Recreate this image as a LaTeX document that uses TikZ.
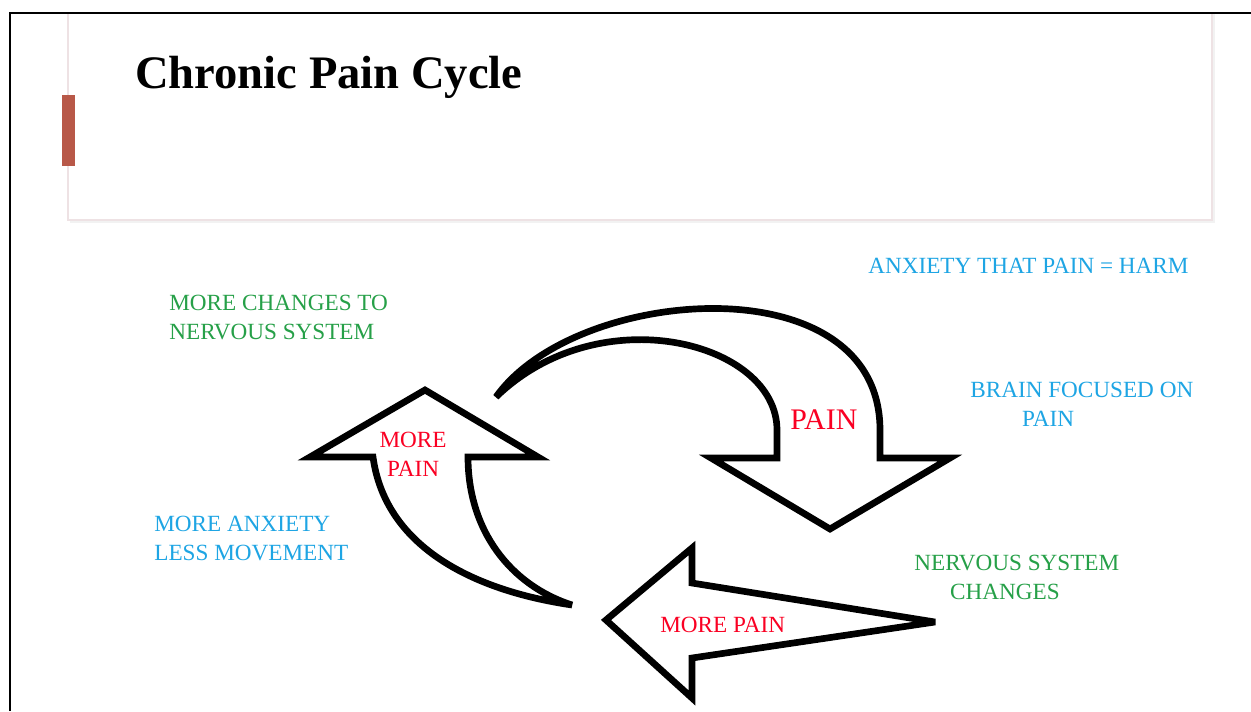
\documentclass[tikz,border=0pt]{standalone}
\usepackage{fontspec}
\setmainfont{Liberation Serif}
\definecolor{barred}{RGB}{184,88,72}
\definecolor{labelblue}{RGB}{30,165,228}
\definecolor{labelgreen}{RGB}{38,160,72}
\definecolor{painred}{RGB}{250,0,35}
\definecolor{boxline}{RGB}{238,226,228}
\begin{document}
\begin{tikzpicture}[x=0.02cm,y=-0.02cm]
  \tikzset{
    cycletext/.style={
      inner sep=0pt,
      anchor=west,
      align=left,
      font=\fontsize{13.2}{16.4}\selectfont,
    },
    bluetext/.style={cycletext, text=labelblue},
    greentext/.style={cycletext, text=labelgreen},
    redtext/.style={cycletext, text=painred},
    cyclearrow/.style={
      draw=black,
      fill=white,
      line width=3.8pt,
      miter limit=4,
    },
  }
  \useasboundingbox (0,0) rectangle (1251,711);
  \fill[white] (0,0) rectangle (1251,711);

  \fill[black!5] (70,13) rectangle (1215,223);
  \draw[boxline, fill=white, line width=0.8pt] (68,13) rectangle (1212,220);
  \draw[line width=1.5pt] (10,711) -- (10,13) -- (1251,13);
  \fill[barred] (62,95) rectangle (75,166);
  \node[anchor=base west, inner sep=0pt, font=\fontsize{26.5}{30}\selectfont\bfseries] (title) at (135,88) {Chronic Pain Cycle};

  \draw[cyclearrow] (880,458) -- (950,458) -- (830,529) -- (711,458) -- (777,458) -- (777,430)
    .. controls (777,342) and (600,296) .. (496,397)
    .. controls (575,285) and (880,262) .. (880,430) -- cycle;
  \draw[cyclearrow] (538,457) -- (425,390) -- (310,457) -- (373,457)
    .. controls (385,545) and (470,590) .. (572,605)
    .. controls (510,585) and (468,530) .. (468,457) -- cycle;
  \draw[cyclearrow] (692,583) -- (935,622) -- (692,658) -- (692,698) -- (606,620) -- (692,548) -- cycle;

  \node[bluetext] (harm) at (868,266) {ANXIETY THAT PAIN = HARM};
  \node[greentext] (changes) at (169,317.5) {MORE CHANGES TO\\NERVOUS SYSTEM};
  \node[bluetext] (focus) at (970,404.5) {BRAIN FOCUSED ON\\\hspace*{29.5pt}PAIN};
  \node[bluetext] (movement) at (154,538.5) {MORE ANXIETY\\LESS MOVEMENT};
  \node[greentext] (nervous) at (914,577.5) {NERVOUS SYSTEM\\\hspace*{20.4pt}CHANGES};
  \node[redtext, font=\fontsize{17}{20}\selectfont] (pain) at (790,420) {PAIN};
  \node[redtext, anchor=center, align=center] (uppain) at (413,454.5) {MORE\\PAIN};
  \node[redtext] (leftpain) at (660,625) {MORE PAIN};
\end{tikzpicture}
\end{document}
